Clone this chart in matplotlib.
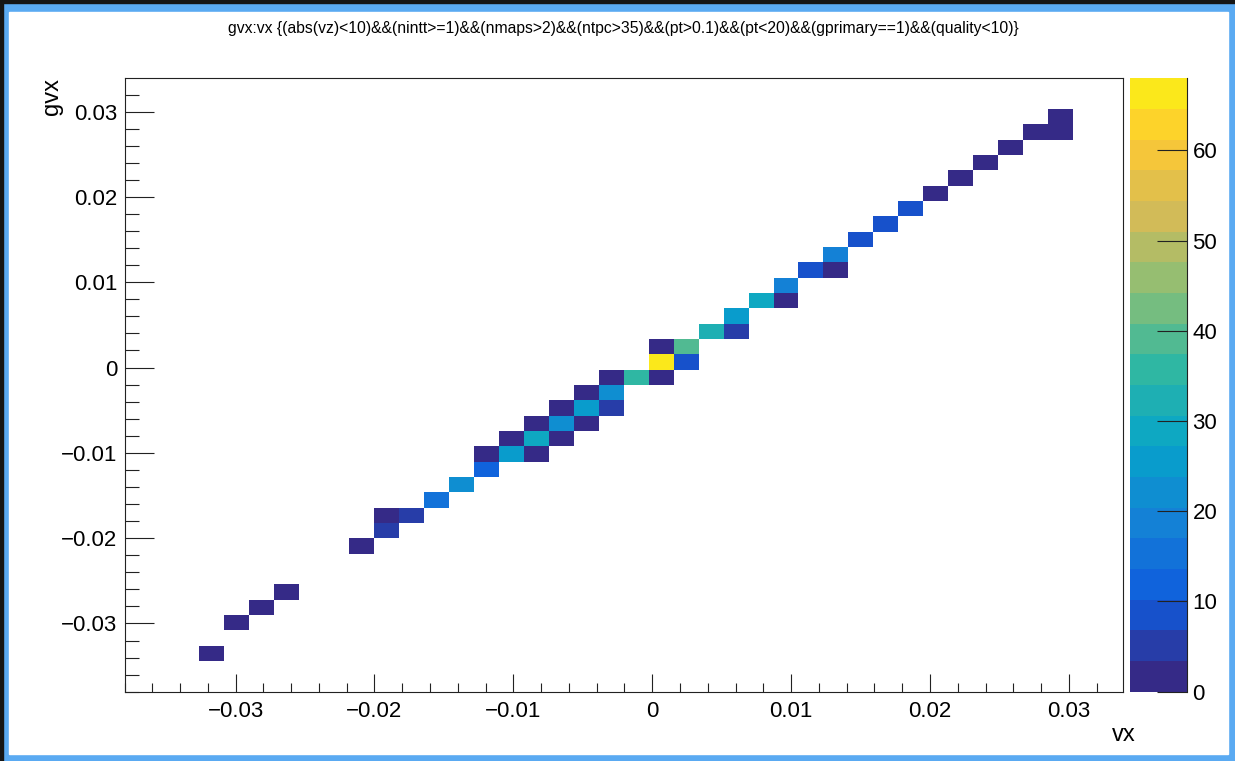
# gvx vs vx, 2D histogram drawn COLZ-style with the bird palette

import numpy as np
import matplotlib.pyplot as plt
from matplotlib.colors import LinearSegmentedColormap, ListedColormap, BoundaryNorm
from matplotlib.patches import Rectangle
from matplotlib.ticker import MultipleLocator, FuncFormatter

plt.rcParams['font.family'] = ['Liberation Sans', 'DejaVu Sans']

# binning: 40 x 40, same range on both axes
lo, hi, nbins = -0.0380, 0.0339, 40

# filled bins (vx bin index, gvx bin index, entries)
vx_bin = [3, 4, 5, 6, 9, 10, 10, 11, 12, 13, 14, 14, 15, 16, 15, 16, 17, 16,
          17, 18, 17, 18, 19, 18, 19, 19, 20, 21, 21, 22, 21, 22, 23, 24, 24,
          25, 26, 26, 27, 28, 28, 29, 30, 31, 32, 33, 34, 35, 36, 37, 37]
gvx_bin = [2, 4, 5, 6, 9, 10, 11, 11, 12, 13, 14, 15, 15, 15, 16, 16, 16, 17,
           17, 17, 18, 18, 18, 19, 19, 20, 20, 20, 21, 21, 22, 22, 23, 23, 24,
           25, 25, 26, 27, 27, 28, 29, 30, 31, 32, 33, 34, 35, 36, 36, 37]
counts = [1, 1, 1, 1, 1, 5, 1, 5, 15, 22, 12, 2, 25, 2, 2, 29, 2, 2,
          22, 2, 1, 25, 5, 2, 21, 2, 35, 2, 66, 9, 2, 39, 32, 5, 26,
          29, 2, 19, 9, 2, 18, 10, 10, 10, 1, 1, 1, 1, 1, 1, 1]

title = ("gvx:vx {(abs(vz)<10)&&(nintt>=1)&&(nmaps>2)&&(ntpc>35)&&(pt>0.1)"
         "&&(pt<20)&&(gprimary==1)&&(quality<10)}")

# ROOT kBird palette, 20 contour levels
stops = [0.0, 0.125, 0.25, 0.375, 0.5, 0.625, 0.75, 0.875, 1.0]
red = [0.2082, 0.0592, 0.0780, 0.0232, 0.1802, 0.5301, 0.8186, 0.9956, 0.9764]
green = [0.1664, 0.3599, 0.5041, 0.6419, 0.7178, 0.7492, 0.7328, 0.7862, 0.9832]
blue = [0.5293, 0.8684, 0.8385, 0.7914, 0.6425, 0.4662, 0.3499, 0.1968, 0.0539]
bird = LinearSegmentedColormap.from_list('bird', list(zip(stops, zip(red, green, blue))))
ncont = 20
zmax = 68
cmap = ListedColormap(bird(np.arange(ncont) / ncont))
norm = BoundaryNorm(np.linspace(0, zmax, ncont + 1), ncont)

edges = np.linspace(lo, hi, nbins + 1)
centers = 0.5 * (edges[:-1] + edges[1:])
vx = centers[vx_bin]
gvx = centers[gvx_bin]
H, _, _ = np.histogram2d(vx, gvx, bins=[edges, edges], weights=counts)
H = np.ma.masked_equal(H.T, 0)

W, Hpx = 1235, 761
fig = plt.figure(figsize=(W / 100, Hpx / 100), dpi=100, facecolor='#5aaaf2')
# canvas window: white pad inside the blue frame
fig.patches.append(Rectangle((9 / W, 7 / Hpx), 1219 / W, 742 / Hpx,
                             transform=fig.transFigure, color='white', zorder=-10))
fig.patches.append(Rectangle((0, 1 - 3 / Hpx), 1, 3 / Hpx,
                             transform=fig.transFigure, color='#151515', zorder=-10))
fig.patches.append(Rectangle((0, 0), 3 / W, 1,
                             transform=fig.transFigure, color='#151515', zorder=-10))

ax_l, ax_r, ax_t, ax_b = 124.5, 1123, 78.3, 691.7
ax = fig.add_axes([ax_l / W, 1 - ax_b / Hpx, (ax_r - ax_l) / W, (ax_b - ax_t) / Hpx])
ax.set_facecolor('none')
mesh = ax.pcolormesh(edges, edges, H, cmap=cmap, norm=norm)
ax.set_xlim(lo, hi)
ax.set_ylim(lo, hi)

fmt = FuncFormatter(lambda v, p: '0' if abs(v) < 1e-9 else f'{v:.2f}'.replace('-', '\u2212'))
for axis in (ax.xaxis, ax.yaxis):
    axis.set_major_locator(MultipleLocator(0.01))
    axis.set_minor_locator(MultipleLocator(0.002))
    axis.set_major_formatter(fmt)
ax.tick_params(which='both', direction='in', top=False, right=False,
               labelsize=16, width=0.8, color='#222222')
ax.tick_params(axis='y', which='major', length=21, pad=5)
ax.tick_params(axis='y', which='minor', length=10)
ax.tick_params(axis='x', which='major', length=13, pad=7)
ax.tick_params(axis='x', which='minor', length=6.5)
for s in ax.spines.values():
    s.set_linewidth(0.8)
    s.set_color('#222222')

fig.text(623 / W, 1 - 28 / Hpx, title, ha='center', va='center', fontsize=11.3)
fig.text(1136 / W, 1 - 735 / Hpx, 'vx', ha='right', va='center', fontsize=17)
fig.text(52 / W, 1 - 78 / Hpx, 'gvx', ha='center', va='top', rotation=90, fontsize=17)

# palette axis
cax = fig.add_axes([1130 / W, 1 - ax_b / Hpx, 57 / W, (ax_b - ax_t) / Hpx])
cb = fig.colorbar(mesh, cax=cax, ticks=range(0, 70, 10))
cb.outline.set_visible(False)
cb.minorticks_off()
cax.yaxis.set_ticks_position('right')
cax.tick_params(direction='in', length=21.6, width=0.8, labelsize=16, pad=4, color='#222222')
cax.plot([1, 1], [0, 1], transform=cax.transAxes, color='#222222', lw=0.8, clip_on=False)

fig.savefig('out.png', dpi=100, facecolor=fig.get_facecolor())
